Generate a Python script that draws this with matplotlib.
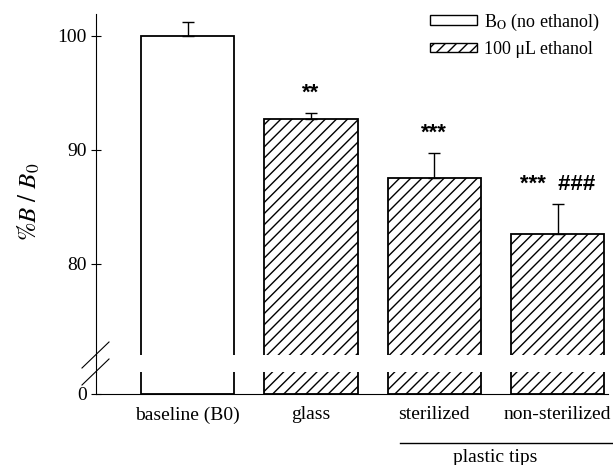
import numpy as np
import matplotlib.pyplot as plt
from matplotlib.lines import Line2D

plt.rcParams['font.family'] = 'Liberation Serif'
plt.rcParams['mathtext.fontset'] = 'stix'
plt.rcParams['hatch.linewidth'] = 1.0

# data
groups = ["baseline (B0)", "glass", "sterilized", "non-sterilized"]
values = [100.0, 92.7, 87.5, 82.6]
errors = [1.2, 0.5, 2.2, 2.6]
hatches = ["", "///", "///", "///"]
marks = ["", "**", "***", "***  ###"]

x = np.arange(len(groups))
w = 0.755

fig = plt.figure(figsize=(6.13, 4.65), dpi=100)
ax_top = fig.add_axes([0.157, 0.237, 0.835, 0.733])
ax_bot = fig.add_axes([0.157, 0.153, 0.835, 0.047])

for ax in (ax_top, ax_bot):
    for i in range(len(groups)):
        ax.bar(x[i], values[i], w, color="white", edgecolor="black",
               linewidth=1.3, hatch=hatches[i], zorder=2)
    ax.set_xlim(-0.742, 3.41)
    ax.spines["top"].set_visible(False)
    ax.spines["right"].set_visible(False)
    ax.tick_params(axis="y", direction="inout", length=7, width=0.8,
                   labelsize=14)
    ax.tick_params(axis="x", length=0)

# error bars, upper only
ax_top.errorbar(x, values, yerr=[np.zeros(len(errors)), errors], fmt="none",
                ecolor="black", elinewidth=1, capsize=4, capthick=1, zorder=3)

ax_top.set_ylim(72, 101.9)
ax_top.set_yticks([80, 90, 100])
ax_top.spines["bottom"].set_visible(False)
ax_top.set_xticks([])

ax_bot.set_ylim(0, 1.93)
ax_bot.set_yticks([0])
ax_bot.set_xticks(x)
ax_bot.set_xticklabels(groups, fontsize=14)
ax_bot.tick_params(axis="x", pad=9)

ax_top.set_ylabel(r"$\%B\ /\ B_0$", fontsize=18)
ax_top.yaxis.set_label_coords(-0.105, 0.45)

for i in range(len(groups)):
    if marks[i]:
        ax_top.text(x[i], values[i] + errors[i] + 0.8, marks[i],
                    ha="center", va="bottom", fontsize=16,
                    fontweight="bold", family="Liberation Sans")

# left spine through the gap and the break marks
fig.add_artist(Line2D([96/613, 96/613], [1-355/465, 1-372/465],
                      color="black", lw=0.8))
for y0 in (368, 385):
    fig.add_artist(Line2D([82/613, 109/613], [1-y0/465, 1-(y0-26)/465],
                          color="black", lw=0.8))

# group label for the plastic tips
fig.add_artist(Line2D([400/613, 612/613], [1-443/465, 1-443/465],
                      color="black", lw=1))
fig.text(495/613, 1-457/465, "plastic tips", ha="center", va="center",
         fontsize=14)

# legend
h0 = plt.Rectangle((0, 0), 1, 1, facecolor="white", edgecolor="black", lw=1)
h1 = plt.Rectangle((0, 0), 1, 1, facecolor="white", edgecolor="black", lw=1,
                   hatch="///")
fig.legend([h0, h1], [r"B$_\mathrm{O}$ (no ethanol)", "100 μL ethanol"],
           loc="upper right", bbox_to_anchor=(1.005, 1.01), frameon=False,
           fontsize=13, handlelength=2.6, handleheight=0.45,
           handletextpad=0.4, labelspacing=0.45)

fig.savefig("out.png", dpi=100)
